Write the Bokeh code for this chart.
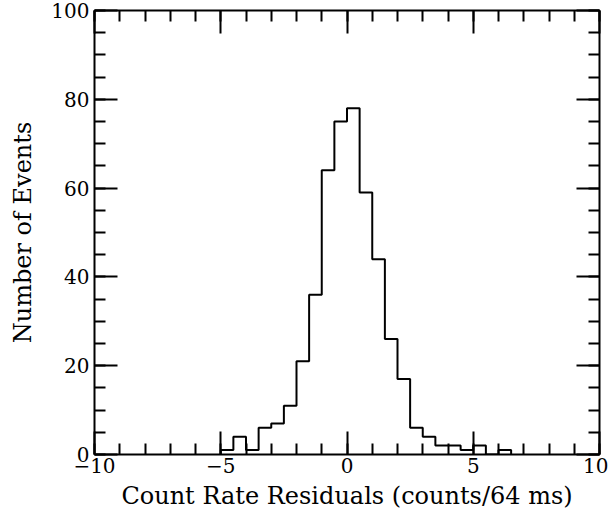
from bokeh.plotting import figure
from bokeh.models import Range1d, LinearAxis, FixedTicker
from bokeh.embed import file_html
from bokeh.resources import INLINE

# Histogram data (bin width 0.5)
bin_lefts = [-5.0, -4.5, -4.0, -3.5, -3.0, -2.5, -2.0, -1.5, -1.0, -0.5, 0.0, 0.5,
             1.0, 1.5, 2.0, 2.5, 3.0, 3.5, 4.0, 4.5, 5.0, 5.5, 6.0]
counts = [1, 4, 1, 6, 7, 11, 21, 36, 64, 75, 78, 59,
          44, 26, 17, 6, 4, 2, 2, 1, 2, 0, 1]
bin_width = 0.5

x_major = [-10, -5, 0, 5, 10]
x_minor = list(range(-10, 11))
y_major = [0, 20, 40, 60, 80, 100]
y_minor = list(range(0, 101, 5))

FONT = "DejaVu Serif"

p = figure(width=608, height=514, output_backend="svg", toolbar_location=None,
           x_range=Range1d(-10, 10), y_range=Range1d(0, 100),
           x_axis_location=None, y_axis_location=None,
           min_border_left=94, min_border_right=9, min_border_top=10,
           min_border_bottom=60)
p.outline_line_color = None
p.grid.visible = False
p.background_fill_color = "white"
p.border_fill_color = "white"

xs = [bin_lefts[0]] + bin_lefts + [bin_lefts[-1] + bin_width]
ys = [0] + counts + [0]
p.step(xs, ys, mode="after", line_color="black", line_width=2)


def style(ax, labels):
    ax.axis_line_width = 2
    ax.axis_line_color = "black"
    ax.major_tick_line_width = 2
    ax.minor_tick_line_width = 2
    ax.major_tick_out = 0
    ax.minor_tick_out = 0
    ax.major_tick_in = 23
    ax.minor_tick_in = 11
    ax.major_tick_line_color = "black"
    ax.minor_tick_line_color = "black"
    if not labels:
        ax.major_label_text_font_size = "0px"
        ax.major_label_text_color = None
        ax.major_label_standoff = 0
        ax.axis_label_standoff = 0
    else:
        ax.major_label_text_font = FONT
        ax.major_label_text_font_size = "20px"
        ax.major_label_text_color = "black"
        ax.axis_label_text_font = FONT
        ax.axis_label_text_font_size = "24px"
        ax.axis_label_text_font_style = "normal"
        ax.axis_label_text_color = "black"


xt = FixedTicker(ticks=x_major, minor_ticks=x_minor)
yt = FixedTicker(ticks=y_major, minor_ticks=y_minor)

bottom = LinearAxis(ticker=xt, axis_label="Count Rate Residuals (counts/64 ms)")
style(bottom, True)
bottom.major_label_standoff = 3
bottom.axis_label_standoff = 6
bottom.major_label_overrides = {-10: "\u221210", -5: "\u22125"}
p.add_layout(bottom, "below")

left = LinearAxis(ticker=yt, axis_label="Number of Events")
style(left, True)
left.major_label_standoff = 5
left.axis_label_standoff = 11
p.add_layout(left, "left")

top = LinearAxis(ticker=xt)
style(top, False)
top.major_label_overrides = {t: "" for t in x_major}
p.add_layout(top, "above")

right = LinearAxis(ticker=yt)
style(right, False)
right.major_label_overrides = {t: "" for t in y_major}
p.add_layout(right, "right")

open("out.html", "w").write(file_html(p, INLINE))
